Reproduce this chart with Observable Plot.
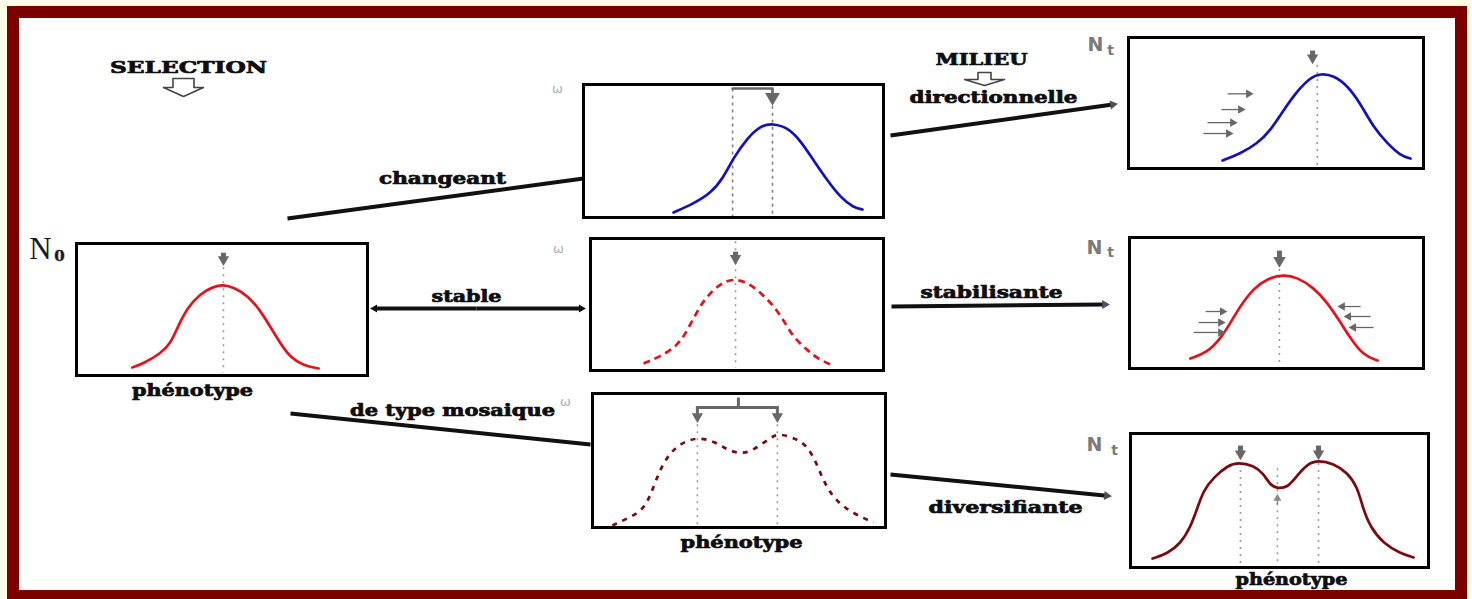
<!DOCTYPE html>
<html><head><meta charset="utf-8">
<script src="https://cdn.jsdelivr.net/npm/d3@7"></script>
<script src="https://cdn.jsdelivr.net/npm/@observablehq/plot@0.6"></script>
<style>
html,body{margin:0;padding:0;background:#fffde6;}
#stage{position:relative;width:1472px;height:599px;overflow:hidden;}
#border{position:absolute;left:7px;top:6px;width:1460px;height:593px;box-sizing:border-box;border:12px solid #7b0000;border-bottom-width:9px;background:#fff;}
</style></head><body><div id="stage"><div id="border"></div></div>
<script>
// ---------------- DATA (phenotype 0–100 across each panel, frequency 0–100 of panel height) ----------------
const n0Phen = [19.2,23.0,28.9,32.3,34.7,38.1,42.6,47.1,50.5,54.0,58.8,63.2,66.7,70.1,73.5,78.0,83.2];
const n0Freq = [6.1,9.1,16.7,24.2,36.4,51.5,62.1,67.4,68.9,66.7,60.6,49.2,36.4,24.2,13.6,7.6,5.3];
const changeantPhen = [30,36.7,42.3,46.7,50,54.7,59,63,68,72.3,76.7,81.3,85.7,90,93];
const changeantFreq = [3.8,10.5,18,30,45,60,69,70.7,67.7,57.9,42.9,27.8,15,7.5,6];
const directionPhen = [31.9,38,43.7,48.1,52.5,57.3,61.7,65.1,69.5,74.2,78.6,83.1,87.8,92.2,95.6];
const directionFreq = [6.1,11.5,19.1,29,44.3,59.5,69.5,72.5,71,63.4,49.6,31.3,19.1,9.9,7.6];
const stablePhen = [18.1,23.9,29.7,33.1,36.5,39.9,44.4,48.8,53.6,58,62.5,65.9,69.3,74.1,77.5,81.9];
const stableFreq = [5.3,10.6,18.9,30.3,45.5,56.8,65.9,69.7,66.7,59.1,49.2,37.9,25,15.2,9.1,4.5];
const stabilisPhen = [20.7,26.5,31,34.4,37.8,42.2,46.9,52.4,57.1,62.6,67.3,71.8,75.2,79.6,84.4];
const stabilisFreq = [7.6,12.2,22.9,35.1,48.1,61.1,68.7,71.8,69.5,61.8,50.4,35.1,22.9,9.9,6.1];
const mosaiquePhen = [6.8,11.9,17.1,19.8,22.2,25.6,30,35.2,41.3,46.1,51.5,56.3,60.8,63.5,68.6,73.4,76.8,79.5,83.6,89.1,95.9];
const mosaiqueFreq = [1.5,6.7,12.7,23.9,38.8,53.7,62.7,67.2,64.9,57.5,54.5,59.7,67.2,70.1,67.2,61.2,46.3,31.3,18.7,10.4,3.7];
const diversPhen = [7.4,12.4,16.8,20.1,22.5,24.5,27.9,32.6,36.2,41.3,44.6,47,49.3,52.7,55.4,59.4,63.1,68.1,72.8,76.2,77.9,80.5,84.9,90.6,95];
const diversFreq = [6.7,10.4,17.9,29.9,44.8,57.5,67.2,76.1,78.4,76.1,70.1,61.2,59,59.7,67.2,77.6,79.9,77.6,70.9,59.7,44.8,29.9,17.9,10.4,7.5];

// optimum phenotypes (dotted guides)
const n0Optima = [50.5];
const changeantOptima = [49.7, 63];
const directionOptima = [64];
const stableOptima = [49.5];
const stabilisOptima = [51];
const mosaiqueOptima = [35.8, 63.1];
const diversOptima = [36.9, 49.3, 63.1];

// small selection-pressure arrows: tail phenotype, tip phenotype, frequency level
const directionArrowTail = [33.6, 31.5, 26.8, 25.4];
const directionArrowTip  = [42.4, 39.7, 37.0, 35.6];
const directionArrowLevel = [57, 45, 35, 26.7];
const stabilisArrowTail = [25.9, 23.5, 21.8, 78.6, 82.0, 83.0];
const stabilisArrowTip  = [33.3, 32.7, 32.7, 70.7, 72.8, 74.5];
const stabilisArrowLevel = [43.5, 35.1, 27.5, 47.3, 39.7, 31.3];

// texts
const labelText = ["SELECTION","MILIEU","directionnelle","changeant","stable","stabilisante","de type mosaique","diversifiante","phénotype","phénotype","phénotype"];

// ---------------- LAYOUT ----------------
const stage = document.getElementById("stage");
const layout = {
  n0:        {x:76,  y:243, w:291, h:132},
  changeant: {x:583, y:84,  w:300, h:133},
  direction: {x:1128,y:37,  w:295, h:131},
  stable:    {x:590, y:238, w:293, h:132},
  stabilis:  {x:1129,y:237, w:294, h:131},
  mosaique:  {x:592, y:393, w:293, h:134},
  divers:    {x:1130,y:433, w:298, h:134}
};
const labelX = [188,981,993,442,466,991,452,1005,192,741,1291];
const labelY = [67,59,97,178,296,292,410,507,390,542,579];
const labelW = [157,92,168,127,70,142,205,154,121,122,112];

const RED = "#e0141c", BLUE = "#1212b8", DARKRED = "#7a0a10", GUIDE = "#9a9a9a", MARK = "#676767";

function tipOffset(r){ return 2*Math.sqrt(Math.PI*r*r/(3*Math.sqrt(3))); }

function curve(ph, fr, stroke, dash) {
  return Plot.line(ph.map((p,i)=>({p, f:fr[i]})), {x:"p", y:"f", curve:"basis", stroke, strokeWidth:2.7,
    strokeDasharray: dash || null, strokeLinecap: dash ? "butt" : "round", strokeLinejoin:"round"});
}
function guides(ph, tops, bottom, color=GUIDE, dash="2,5") {
  return Plot.link(ph.map((p,i)=>({p, t:tops[i], b:bottom})), {x1:"p", x2:"p", y1:"t", y2:"b", stroke:color, strokeWidth:1.6, strokeDasharray:dash});
}
function vArrow(p, f0, fTip, uy, r=4.2, sw=5, color=MARK) {
  const off = tipOffset(r)/uy;
  const down = fTip < f0;
  const c = down ? fTip + off : fTip - off;
  return [
    Plot.link([{p, a:f0, b:c}], {x1:"p", x2:"p", y1:"a", y2:"b", stroke:color, strokeWidth:sw}),
    Plot.dot([{p, c}], {x:"p", y:"c", r, symbol:"triangle", rotate: down ? 180 : 0, fill:color, stroke:"none"})
  ];
}
function hArrows(tails, tips, levels, ux, r=3.2, sw=1.3, color=MARK) {
  const off = tipOffset(r)/ux;
  const rows = tails.map((a,i)=>{
    const b = tips[i], right = b > a;
    return {a, c: right ? b - off : b + off, f: levels[i], rot: right ? 90 : -90};
  });
  return [
    Plot.link(rows, {x1:"a", x2:"c", y1:"f", y2:"f", stroke:color, strokeWidth:sw}),
    Plot.dot(rows, {x:"c", y:"f", r, symbol:"triangle", rotate:"rot", fill:color, stroke:"none"})
  ];
}
function makePanel(box, build) {
  const pad = 3;
  const svg = Plot.plot({
    width: box.w + 2*pad, height: box.h + 2*pad, margin: pad,
    x: {domain:[0,100], axis:null}, y: {domain:[0,100], axis:null},
    style: "background:transparent;overflow:visible;",
    marks: [...build(box.w/100, box.h/100), Plot.frame({stroke:"#000", strokeWidth:3})]
  });
  svg.style.position = "absolute";
  svg.style.left = (box.x - pad) + "px";
  svg.style.top = (box.y - pad) + "px";
  stage.appendChild(svg);
}

// ---------------- OVERLAY (connectors and labels) ----------------
const connFrom = [[287,218],[290,413],[890,135],[891,306],[890,474],[476,308],[476,308]];
const connTo   = [[583,178],[590,444],[1120,103],[1112,304],[1114,496],[368,308],[587,308]];
const connHead = [null,null,"#505050","#505060","#505050","#111","#111"];
const connRows = connFrom.map((f,i)=>{
  const t = connTo[i], head = connHead[i];
  const dx = t[0]-f[0], dy = t[1]-f[1], L = Math.hypot(dx,dy);
  const r = head === "#111" ? 4 : 5;
  const off = head ? tipOffset(r) : 0;
  return {x1:f[0], y1:f[1], x2:t[0]-dx/L*off, y2:t[1]-dy/L*off, head, r,
          rot: Math.atan2(dx, -dy)*180/Math.PI};
});
const headRows = connRows.filter(d=>d.head);

function openArrow(cx, top, stemW, headW, stemH, totalH) {
  return [[cx-stemW/2,top],[cx+stemW/2,top],[cx+stemW/2,top+stemH],[cx+headW/2,top+stemH],[cx,top+totalH],
          [cx-headW/2,top+stemH],[cx-stemW/2,top+stemH],[cx-stemW/2,top]].map(([x,y])=>({x,y}));
}

const labels = labelText.map((t,i)=>({t, x:labelX[i], y:labelY[i]}));
const overlay = Plot.plot({
  width:1472, height:599, margin:0,
  x:{domain:[0,1472], range:[0,1472], axis:null},
  y:{domain:[0,599], range:[0,599], axis:null},
  style:"background:transparent;position:absolute;left:0;top:0;overflow:visible;",
  marks:[
    Plot.text(labels, {x:"x", y:"y", text:"t", fontFamily:"DejaVu Serif", fontWeight:"bold", fontSize:16, fill:"#0e0e0e", stroke:"#0e0e0e", strokeWidth:0.7}),
    Plot.link(connRows, {x1:"x1", y1:"y1", x2:"x2", y2:"y2", stroke:"#111", strokeWidth:4}),
    Plot.dot(headRows, {x:"x2", y:"y2", r:"r", symbol:"triangle", rotate:"rot", fill:"head", stroke:"none"}),
    Plot.line(openArrow(183,78,21,40,9,18), {x:"x", y:"y", stroke:"#444", strokeWidth:1.6}),
    Plot.line(openArrow(984,72,13,40,7,13), {x:"x", y:"y", stroke:"#444", strokeWidth:1.6}),
    Plot.text(["N"], {x:40, y:249, fontFamily:"Liberation Serif", fontSize:31, fill:"#1a1a1a"}),
    Plot.text(["0"], {x:59, y:256, fontFamily:"DejaVu Serif", fontWeight:"bold", fontSize:15, fill:"#1a1a1a", stroke:"#1a1a1a", strokeWidth:0.4}),
    Plot.text(["N","N","N"], {x:[1095,1094,1094], y:[44,247,444], fontFamily:"DejaVu Sans", fontWeight:"bold", fontSize:19, fill:"#7a7a7a"}),
    Plot.text(["t","t","t"], {x:[1110,1110,1114], y:[50,252,450], fontFamily:"DejaVu Sans", fontWeight:"bold", fontSize:14, fill:"#7a7a7a"}),
    Plot.text(["ω","ω","ω"], {x:[557,558,565], y:[88,248,401], fontFamily:"DejaVu Sans", fontSize:13, fill:"#b0b0b0"})
  ]
});
stage.appendChild(overlay);
overlay.querySelector('g[aria-label="text"]').querySelectorAll("text").forEach((el,i)=>{
  el.setAttribute("textLength", labelW[i]);
  el.setAttribute("lengthAdjust", "spacingAndGlyphs");
});

// ---------------- PANELS ----------------
makePanel(layout.n0, (ux,uy)=>[
  guides(n0Optima, [82], 2),
  curve(n0Phen, n0Freq, RED),
  ...vArrow(n0Optima[0], 93, 83, uy)
]);
makePanel(layout.changeant, (ux,uy)=>[
  guides(changeantOptima, [97, 84], 0, "#808080", "3,4"),
  curve(changeantPhen, changeantFreq, BLUE),
  Plot.line([{p:changeantOptima[0], f:97},{p:changeantOptima[1], f:97},{p:changeantOptima[1], f:92}], {x:"p", y:"f", stroke:MARK, strokeWidth:2.6}),
  ...vArrow(changeantOptima[1], 93, 84, uy, 5.5, 6)
]);
makePanel(layout.direction, (ux,uy)=>[
  guides(directionOptima, [79], 2),
  curve(directionPhen, directionFreq, BLUE),
  ...vArrow(62.4, 90, 79.5, uy),
  ...hArrows(directionArrowTail, directionArrowTip, directionArrowLevel, ux)
]);
makePanel(layout.stable, (ux,uy)=>[
  guides(stableOptima, [98], 2),
  curve(stablePhen, stableFreq, RED, "7,5"),
  ...vArrow(stableOptima[0], 90, 80, uy)
]);
makePanel(layout.stabilis, (ux,uy)=>[
  guides(stabilisOptima, [76], 0),
  curve(stabilisPhen, stabilisFreq, RED),
  ...vArrow(stabilisOptima[0], 90, 77, uy, 4.6),
  ...hArrows(stabilisArrowTail, stabilisArrowTip, stabilisArrowLevel, ux)
]);
makePanel(layout.mosaique, (ux,uy)=>[
  guides(mosaiqueOptima, [77, 77], 1),
  curve(mosaiquePhen, mosaiqueFreq, DARKRED, "5,6"),
  Plot.line([{p:mosaiqueOptima[0], f:89.6},{p:mosaiqueOptima[1], f:89.6}], {x:"p", y:"f", stroke:MARK, strokeWidth:3}),
  Plot.link([{p:49.8, a:89.6, b:97}], {x1:"p", x2:"p", y1:"a", y2:"b", stroke:MARK, strokeWidth:3}),
  ...vArrow(mosaiqueOptima[0], 90.5, 78, uy, 4.2, 3),
  ...vArrow(mosaiqueOptima[1], 90.5, 78, uy, 4.2, 3)
]);
makePanel(layout.divers, (ux,uy)=>[
  guides(diversOptima, [78, 74, 78], 0),
  curve(diversPhen, diversFreq, DARKRED),
  ...vArrow(diversOptima[0], 91, 80, uy),
  ...vArrow(diversOptima[2], 91, 80, uy),
  ...vArrow(diversOptima[1], 47, 55, uy, 3, 1.5, "#8a8a8a")
]);
</script></body></html>
